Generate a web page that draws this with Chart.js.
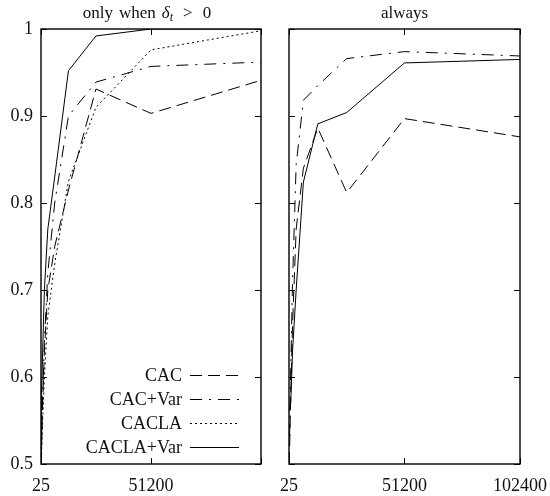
<!DOCTYPE html>
<html>
<head>
<meta charset="utf-8">
<script src="https://cdn.jsdelivr.net/npm/chart.js@4.4.1/dist/chart.umd.min.js"></script>
<style>
  html, body { margin: 0; padding: 0; background: #fff; }
  #wrap { position: relative; width: 550px; height: 496px; }
  .pane { position: absolute; top: 0; width: 275px; height: 496px; }
</style>
</head>
<body>
<div id="wrap">
  <div class="pane" style="left:0"><canvas id="leftChart" width="275" height="496"></canvas></div>
  <div class="pane" style="left:275px"><canvas id="rightChart" width="275" height="496"></canvas></div>
</div>
<script>
// episodes (x) and the score of each method
const samples = [25, 50, 100, 200, 400, 800, 1600, 3200, 6400, 12800, 25600, 51200, 102400];
const seriesNames = ['CAC', 'CAC+Var', 'CACLA', 'CACLA+Var'];

// left panel: only when delta_t > 0
const cacPos       = [0.50, 0.50, 0.50, 0.51, 0.53, 0.57, 0.63, 0.70, 0.75, 0.815, 0.931, 0.903, 0.941];
const cacVarPos    = [0.50, 0.50, 0.50, 0.51, 0.54, 0.58, 0.64, 0.72, 0.80, 0.900, 0.939, 0.957, 0.962];
const caclaPos     = [0.50, 0.50, 0.50, 0.50, 0.52, 0.55, 0.60, 0.67, 0.73, 0.825, 0.910, 0.976, 0.998];
const caclaVarPos  = [0.50, 0.50, 0.51, 0.53, 0.57, 0.63, 0.70, 0.77, 0.83, 0.952, 0.992, 1.000, 1.000];

// right panel: always (no CACLA curve here)
const cacAll       = [0.50, 0.50, 0.50, 0.51, 0.53, 0.58, 0.66, 0.77, 0.840, 0.886, 0.812, 0.897, 0.876];
const cacVarAll    = [0.50, 0.50, 0.50, 0.52, 0.55, 0.61, 0.71, 0.844, 0.918, 0.935, 0.966, 0.974, 0.969];
const caclaVarAll  = [0.56, 0.56, 0.56, 0.56, 0.56, 0.57, 0.63, 0.70, 0.824, 0.891, 0.904, 0.961, 0.965];

const yTicks = [0.5, 0.6, 0.7, 0.8, 0.9, 1];
const xTicks = [25, 51200, 102400];
const leftXLabels = ['25', '51200', ''];
const rightXLabels = ['25', '51200', '102400'];

const dashes = {
  'CAC': [12, 6],
  'CAC+Var': [12, 7, 2, 7],
  'CACLA': [2, 3],
  'CACLA+Var': []
};

const serif = '"Liberation Serif", "DejaVu Serif", serif';

function toPoints(vals) {
  return samples.map((s, i) => ({ x: s, y: vals[i] }));
}

function makeDataset(name, vals) {
  return {
    label: name,
    data: toPoints(vals),
    borderColor: '#000',
    borderWidth: 1,
    borderDash: dashes[name],
    pointRadius: 0,
    tension: 0,
    fill: false
  };
}

// box round the plot with inward ticks on all four sides
const framePlugin = {
  id: 'frame',
  afterDatasetsDraw(chart) {
    const { ctx, chartArea: a, scales: { x, y } } = chart;
    ctx.save();
    ctx.strokeStyle = '#000';
    ctx.lineWidth = 1;
    ctx.setLineDash([]);
    ctx.beginPath();
    yTicks.forEach(v => {
      const p = Math.round(y.getPixelForValue(v)) + 0.5;
      ctx.moveTo(a.left, p); ctx.lineTo(a.left + 6, p);
      ctx.moveTo(a.right, p); ctx.lineTo(a.right - 6, p);
    });
    xTicks.forEach(v => {
      const p = Math.round(x.getPixelForValue(v)) + 0.5;
      ctx.moveTo(p, a.bottom); ctx.lineTo(p, a.bottom - 6);
      ctx.moveTo(p, a.top); ctx.lineTo(p, a.top + 6);
    });
    ctx.stroke();
    ctx.lineWidth = 1.4;
    ctx.strokeRect(Math.round(a.left), Math.round(a.top), Math.round(a.right - a.left), Math.round(a.bottom - a.top));
    ctx.restore();
  }
};

// panel title, pieces with their own gaps (italic delta, subscript t)
const titlePlugin = {
  id: 'panelTitle',
  afterDraw(chart, args, opts) {
    const { ctx, chartArea: a } = chart;
    const parts = opts.parts || [];
    ctx.save();
    ctx.fillStyle = '#111';
    ctx.textBaseline = 'alphabetic';
    ctx.textAlign = 'left';
    let total = 0;
    parts.forEach(p => {
      ctx.font = (p.italic ? 'italic ' : '') + p.size + 'px ' + serif;
      p.w = ctx.measureText(p.text).width;
      total += p.w + (p.gap || 0);
    });
    let xPos = (a.left + a.right) / 2 - total / 2 + (opts.shift || 0);
    parts.forEach(p => {
      xPos += p.gap || 0;
      ctx.font = (p.italic ? 'italic ' : '') + p.size + 'px ' + serif;
      ctx.fillText(p.text, xPos, opts.baseline + (p.dy || 0));
      xPos += p.w;
    });
    ctx.restore();
  }
};

// legend inside the left panel, lower right
const keyPlugin = {
  id: 'key',
  afterDraw(chart, args, opts) {
    if (!opts.show) return;
    const { ctx } = chart;
    ctx.save();
    chart.data.datasets.forEach((ds, i) => {
      const yy = opts.top + i * opts.step;
      ctx.font = '18px ' + serif;
      ctx.fillStyle = '#111';
      ctx.textAlign = 'right';
      ctx.textBaseline = 'middle';
      ctx.fillText(ds.label, opts.textRight, yy + 1);
      ctx.strokeStyle = '#000';
      ctx.lineWidth = 1;
      ctx.setLineDash(ds.borderDash || []);
      ctx.beginPath();
      ctx.moveTo(opts.lineFrom, Math.round(yy) + 0.5);
      ctx.lineTo(opts.lineTo, Math.round(yy) + 0.5);
      ctx.stroke();
    });
    ctx.restore();
  }
};

function makeOptions(opt) {
  return {
    responsive: false,
    animation: false,
    layout: { padding: opt.padding, autoPadding: false },
    scales: {
      x: {
        type: 'linear',
        min: 25,
        max: 102400,
        afterBuildTicks: s => { s.ticks = xTicks.map(v => ({ value: v })); },
        afterFit: s => { s.height = 32; s.paddingLeft = 0; s.paddingRight = 0; },
        grid: { display: false, drawTicks: false },
        border: { display: false },
        ticks: {
          padding: 11,
          maxRotation: 0,
          autoSkip: false,
          color: '#111',
          font: { family: serif, size: 18 },
          callback: (v, i) => opt.xLabels[i]
        }
      },
      y: {
        display: opt.showY,
        min: 0.5,
        max: 1,
        afterBuildTicks: s => { s.ticks = yTicks.map(v => ({ value: v })); },
        afterFit: s => { s.width = opt.showY ? 41 : 0; s.paddingTop = 0; s.paddingBottom = 0; },
        grid: { display: false, drawTicks: false },
        border: { display: false },
        ticks: {
          padding: 8,
          color: '#111',
          font: { family: serif, size: 18 },
          callback: v => String(v)
        }
      }
    },
    plugins: {
      legend: { display: false },
      tooltip: { enabled: false },
      panelTitle: opt.title,
      key: opt.key
    }
  };
}

new Chart(document.getElementById('leftChart'), {
  type: 'line',
  data: {
    datasets: [
      makeDataset('CAC', cacPos),
      makeDataset('CAC+Var', cacVarPos),
      makeDataset('CACLA', caclaPos),
      makeDataset('CACLA+Var', caclaVarPos)
    ]
  },
  options: makeOptions({
    padding: { top: 29, right: 14, left: 0, bottom: 0 },
    showY: true,
    xLabels: leftXLabels,
    title: {
      baseline: 18,
      shift: -4,
      parts: [
        { text: 'only', size: 17 },
        { text: 'when', size: 17, gap: 6 },
        { text: 'δ', size: 17, italic: true, gap: 6 },
        { text: 't', size: 12, italic: true, dy: 3 },
        { text: '>', size: 17, gap: 10 },
        { text: '0', size: 17, gap: 10 }
      ]
    },
    key: { show: true, top: 375, step: 24, textRight: 182, lineFrom: 190, lineTo: 239 }
  }),
  plugins: [framePlugin, titlePlugin, keyPlugin]
});

new Chart(document.getElementById('rightChart'), {
  type: 'line',
  data: {
    datasets: [
      makeDataset('CAC', cacAll),
      makeDataset('CAC+Var', cacVarAll),
      makeDataset('CACLA+Var', caclaVarAll)
    ]
  },
  options: makeOptions({
    padding: { top: 29, right: 30, left: 14, bottom: 0 },
    showY: false,
    xLabels: rightXLabels,
    title: {
      baseline: 18,
      parts: [{ text: 'always', size: 17 }]
    },
    key: { show: false }
  }),
  plugins: [framePlugin, titlePlugin, keyPlugin]
});
</script>
</body>
</html>
